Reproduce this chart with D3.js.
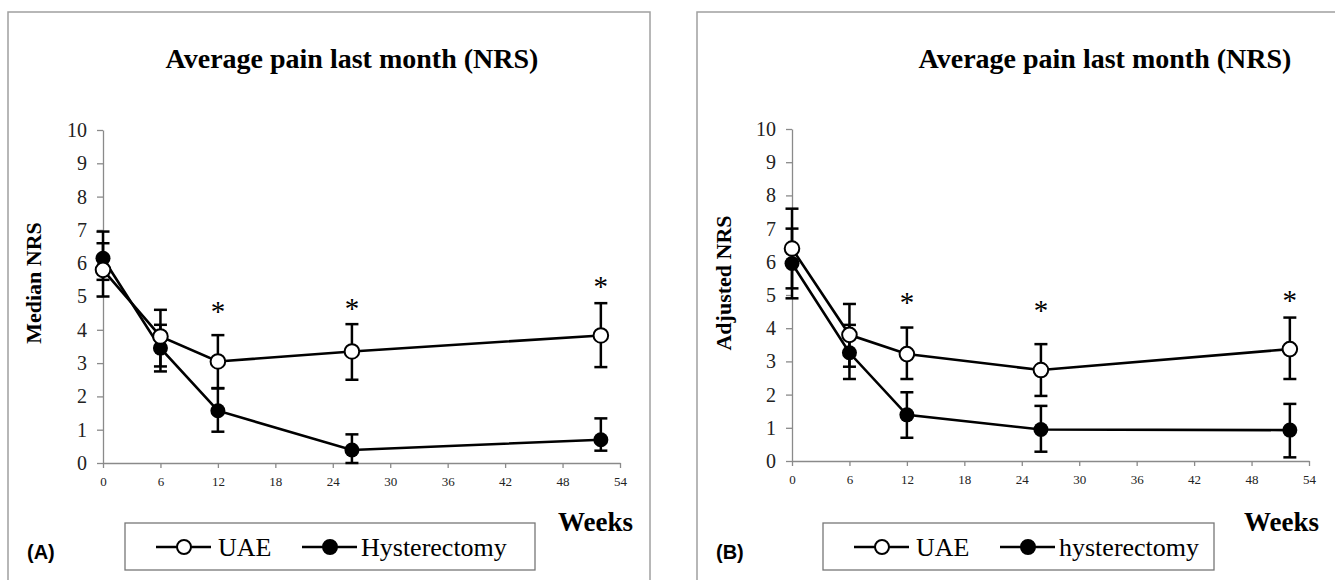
<!DOCTYPE html>
<html>
<head>
<meta charset="utf-8">
<script src="https://cdn.jsdelivr.net/npm/d3@7"></script>
<style>
  body { margin: 0; background: #fff; }
  svg { display: block; }
</style>
</head>
<body>
<svg></svg>
<script>
//initialize variables
var svgWidth = 1335;
var svgHeight = 580;
var svgContainer = d3.select("svg")
                     .attr("width", svgWidth)
                     .attr("height", svgHeight);

var serif = "'Liberation Serif', 'Times New Roman', serif";

//data
var weeks = [0, 6, 12, 26, 52];
var xTicks = [0, 6, 12, 18, 24, 30, 36, 42, 48, 54];
var yTicks = [0, 1, 2, 3, 4, 5, 6, 7, 8, 9, 10];
var starWeeks = [12, 26, 52];

// panel A - median NRS
var uaeA    = [5.8, 3.8, 3.05, 3.35, 3.83];
var uaeALo  = [5.0, 2.9, 2.25, 2.5, 2.88];
var uaeAHi  = [6.6, 4.6, 3.84, 4.17, 4.8];
var hysA    = [6.15, 3.45, 1.57, 0.39, 0.7];
var hysALo  = [5.5, 2.75, 0.94, 0.0, 0.37];
var hysAHi  = [6.95, 4.15, 2.24, 0.86, 1.34];
var starA   = [4.65, 4.74, 5.4];

// panel B - adjusted NRS
var uaeB    = [6.4, 3.8, 3.22, 2.74, 3.37];
var uaeBLo  = [5.2, 2.84, 2.47, 1.96, 2.47];
var uaeBHi  = [7.6, 4.73, 4.02, 3.52, 4.32];
var hysB    = [5.95, 3.26, 1.39, 0.95, 0.93];
var hysBLo  = [4.9, 2.47, 0.7, 0.28, 0.11];
var hysBHi  = [7.0, 4.1, 2.07, 1.66, 1.72];
var starB   = [4.88, 4.65, 4.95];

function series(vals, lo, hi) {
  return weeks.map(function(w, i) { return {w: w, v: vals[i], lo: lo[i], hi: hi[i]}; });
}

function drawPanel(p) {
  var g = svgContainer.append("g");

  //panel frame
  g.append("rect")
   .attr("x", p.frameX).attr("y", 12)
   .attr("width", p.frameW).attr("height", 600)
   .attr("fill", "none").attr("stroke", "#a0a0a0").attr("stroke-width", 1.5);

  var x = d3.scaleLinear().domain([0, 54]).range([p.x0, p.x1]);
  var y = d3.scaleLinear().domain([0, 10]).range([p.y0, p.y1]);

  //axes
  var xAxis = g.append("g")
               .attr("transform", "translate(0," + p.y0 + ")")
               .call(d3.axisBottom(x).tickValues(xTicks).tickSize(5).tickPadding(9).tickSizeOuter(0));
  xAxis.selectAll("text").style("font-family", serif).style("font-size", "13px").attr("fill", "#222");

  var yAxis = g.append("g")
               .attr("transform", "translate(" + p.x0 + ",0)")
               .call(d3.axisLeft(y).tickValues(yTicks).tickSize(6).tickPadding(10).tickSizeOuter(0));
  yAxis.selectAll("text").style("font-family", serif).style("font-size", "20px").attr("fill", "#222");

  g.selectAll(".domain, .tick line").attr("stroke", "#8a8a8a").attr("stroke-width", 1.3);

  //title and axis titles
  g.append("text")
   .attr("x", p.titleX).attr("y", 68)
   .attr("text-anchor", "middle")
   .style("font-family", serif).style("font-weight", "bold").style("font-size", "28px")
   .text("Average pain last month (NRS)");

  g.append("text")
   .attr("transform", "translate(" + p.yLabelX + ",283) rotate(-90)")
   .attr("text-anchor", "middle")
   .style("font-family", serif).style("font-weight", "bold").style("font-size", "22px")
   .text(p.yLabel);

  g.append("text")
   .attr("x", p.weeksX).attr("y", 531)
   .attr("text-anchor", "end")
   .style("font-family", serif).style("font-weight", "bold").style("font-size", "27px")
   .text("Weeks");

  g.append("text")
   .attr("x", p.frameX + 19).attr("y", 559)
   .style("font-family", "'Liberation Sans', Arial, sans-serif").style("font-weight", "bold").style("font-size", "20px")
   .text(p.tag);

  var line = d3.line().x(function(d) { return x(d.w); }).y(function(d) { return y(d.v); });

  [p.uae, p.hys].forEach(function(s) {
    //error bars
    var eb = g.append("g");
    eb.selectAll(".bar").data(s).enter().append("line")
      .attr("x1", function(d) { return x(d.w); }).attr("x2", function(d) { return x(d.w); })
      .attr("y1", function(d) { return y(d.lo); }).attr("y2", function(d) { return y(d.hi); })
      .attr("stroke", "#000").attr("stroke-width", 2.5);
    ["lo", "hi"].forEach(function(key) {
      eb.selectAll(".cap" + key).data(s).enter().append("line")
        .attr("x1", function(d) { return x(d.w) - 6.5; }).attr("x2", function(d) { return x(d.w) + 6.5; })
        .attr("y1", function(d) { return y(d[key]); }).attr("y2", function(d) { return y(d[key]); })
        .attr("stroke", "#000").attr("stroke-width", 2.5);
    });
  });

  [p.uae, p.hys].forEach(function(s) {
    g.append("path").datum(s)
     .attr("d", line)
     .attr("fill", "none").attr("stroke", "#000").attr("stroke-width", 2.6);
  });

  //markers: hysterectomy first so open circles sit on top where they overlap
  g.selectAll(".hys").data(p.hys).enter().append("circle")
   .attr("cx", function(d) { return x(d.w); }).attr("cy", function(d) { return y(d.v); })
   .attr("r", 7.5).attr("fill", "#000");
  g.selectAll(".uae").data(p.uae).enter().append("circle")
   .attr("cx", function(d) { return x(d.w); }).attr("cy", function(d) { return y(d.v); })
   .attr("r", 7.3).attr("fill", "#fff").attr("stroke", "#000").attr("stroke-width", 2);

  //significance stars
  g.selectAll(".star").data(p.stars).enter().append("text")
   .attr("x", function(d, i) { return x(starWeeks[i]); })
   .attr("y", function(d) { return y(d) + 13; })
   .attr("text-anchor", "middle")
   .style("font-family", serif).style("font-size", "29px")
   .text("*");

  //legend
  var lg = g.append("g");
  lg.append("rect")
    .attr("x", p.legX).attr("y", 523).attr("width", p.legW).attr("height", 47)
    .attr("fill", "#fff").attr("stroke", "#777").attr("stroke-width", 1.3);
  var items = [
    {name: "UAE", fill: "#fff", x0: p.legX + 31, tx: p.legX + 93},
    {name: p.hysName, fill: "#000", x0: p.legX + 177, tx: p.legX + 236}
  ];
  items.forEach(function(it) {
    lg.append("line")
      .attr("x1", it.x0).attr("x2", it.x0 + 55).attr("y1", 547).attr("y2", 547)
      .attr("stroke", "#000").attr("stroke-width", 2.6);
    lg.append("circle")
      .attr("cx", it.x0 + 28).attr("cy", 547).attr("r", 7)
      .attr("fill", it.fill).attr("stroke", "#000").attr("stroke-width", 2);
    lg.append("text")
      .attr("x", it.tx).attr("y", 556)
      .style("font-family", serif).style("font-size", "26px")
      .text(it.name);
  });
}

drawPanel({
  frameX: 8, frameW: 642,
  x0: 103, x1: 620, y0: 463, y1: 130,
  titleX: 352, yLabelX: 41, yLabel: "Median NRS", weeksX: 633, tag: "(A)",
  legX: 125, legW: 410, hysName: "Hysterectomy",
  uae: series(uaeA, uaeALo, uaeAHi),
  hys: series(hysA, hysALo, hysAHi),
  stars: starA
});

drawPanel({
  frameX: 697, frameW: 700,
  x0: 792, x1: 1309, y0: 461, y1: 129,
  titleX: 1105, yLabelX: 731, yLabel: "Adjusted NRS", weeksX: 1319, tag: "(B)",
  legX: 823, legW: 391, hysName: "hysterectomy",
  uae: series(uaeB, uaeBLo, uaeBHi),
  hys: series(hysB, hysBLo, hysBHi),
  stars: starB
});
</script>
</body>
</html>
